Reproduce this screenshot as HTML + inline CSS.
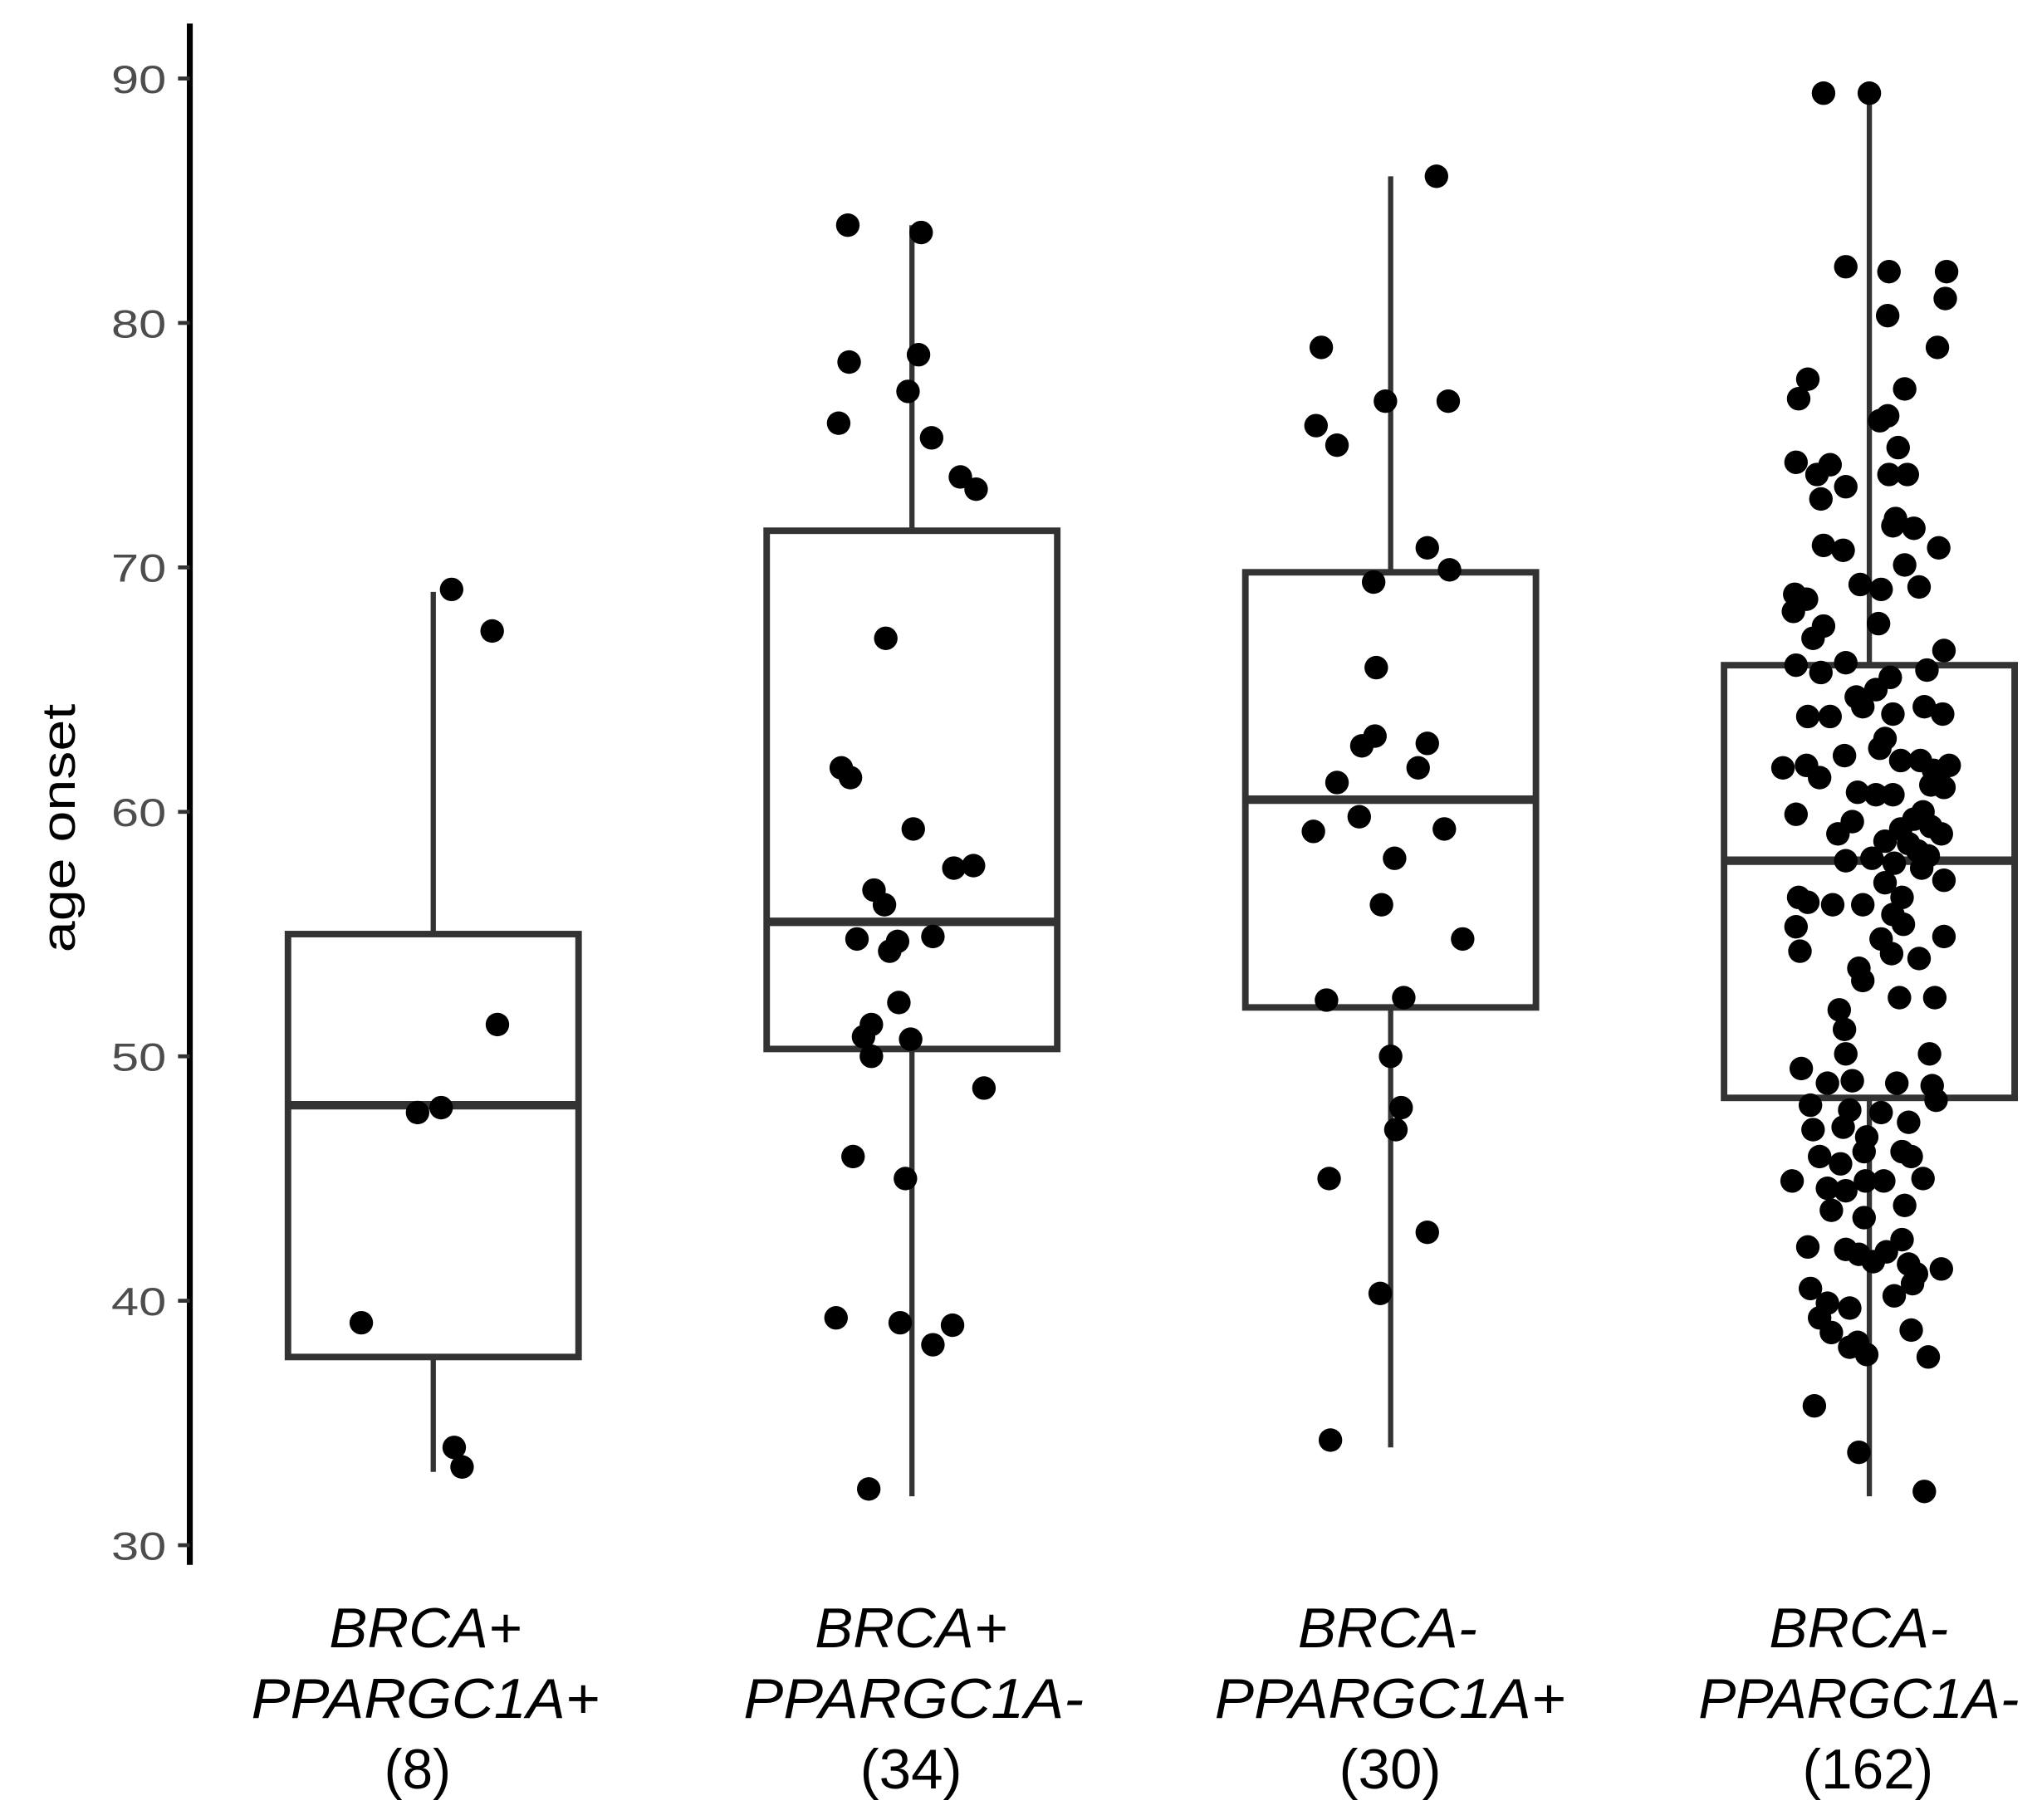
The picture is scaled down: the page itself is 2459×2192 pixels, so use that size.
<!DOCTYPE html>
<html><head><meta charset="utf-8"><style>
html,body{margin:0;padding:0;background:#fff;}
svg{display:block;}
text{font-family:"Liberation Sans",Arial,sans-serif;}
</style></head><body>
<svg id="chart" width="2459" height="2192" viewBox="0 0 1560 1391" preserveAspectRatio="none" xmlns="http://www.w3.org/2000/svg">
</svg>
<script>
const categories = ["BRCA+|PPARGC1A+|(8)","BRCA+|PPARGC1A-|(34)","BRCA-|PPARGC1A+|(30)","BRCA-|PPARGC1A-|(162)"];
const yTicks = [30,40,50,60,70,80,90];
const boxQ1 = [37.7,50.3,52.0,48.3];
const boxMedian = [48.0,55.5,60.5,58.0];
const boxQ3 = [55.0,71.5,69.8,66.0];
const whiskerLow = [33.0,32.0,34.0,32.0];
const whiskerHigh = [69.0,84.0,86.0,89.5];
const g1Values = [69.1,67.4,51.3,47.7,47.9,39.1,34.0,33.2];
const g1Jitter = [14,45,49,-12,6,-55,16,22];
const g2Values = [84.0,83.7,78.4,78.7,77.2,75.9,75.3,73.7,73.2,67.1,61.8,61.4,59.3,57.7,57.8,56.8,56.2,54.9,54.8,54.7,54.3,52.2,51.3,50.8,50.7,50.0,48.7,45.9,45.0,39.3,39.1,39.0,38.2,32.3];
const g2Jitter = [-49,7,-48,5,-3,-56,15,37,49,-20,-54,-47,1,32,47,-29,-21,16,-42,-11,-17,-10,-31,-37,-1,-31,55,-45,-5,-58,-9,31,16,-33];
const g3Values = [86.0,79.0,76.8,76.8,75.8,75.0,70.8,69.9,69.4,65.9,63.1,62.7,62.8,61.8,61.2,59.2,59.8,59.3,58.1,56.2,54.8,52.3,52.4,50.0,47.9,47.0,45.0,42.8,40.3,34.3];
const g3Jitter = [35,-53,-4,44,-57,-41,28,45,-13,-11,-12,-22,28,21,-41,-59,-24,41,3,-7,55,-49,10,0,8,4,-47,28,-8,-46];
const g4Values = [89.4,89.4,82.3,82.1,82.1,80.3,81.0,79.0,77.7,76.9,77.3,76.2,76.0,74.9,73.8,74.3,74.2,73.8,73.3,72.8,73.8,70.8,70.9,70.7,72.0,71.6,71.7,70.1,69.3,69.1,69.2,68.9,68.7,68.2,67.1,67.6,67.7,66.0,65.7,66.1,66.6,65.8,65.5,65.0,64.7,64.0,64.3,64.0,63.9,63.9,64.3,61.9,61.4,62.3,63.0,62.1,62.6,62.1,61.7,61.9,61.1,60.7,60.8,60.7,61.0,60.0,59.7,59.3,59.4,59.1,58.8,58.7,58.4,59.1,58.0,58.1,57.9,57.7,57.2,57.1,56.5,56.2,56.3,56.2,55.3,54.3,55.8,55.4,54.8,54.2,54.0,54.9,53.6,53.1,52.4,52.4,51.9,51.1,50.1,50.1,49.5,48.9,49.0,48.9,48.8,48.0,47.8,47.1,47.7,47.0,46.7,47.3,48.2,45.6,46.1,46.1,45.9,45.9,44.9,44.6,44.5,44.9,44.9,45.0,43.7,43.4,43.9,42.2,42.1,42.0,42.5,41.3,41.9,41.5,40.5,39.9,39.7,39.3,38.7,40.2,40.7,38.3,37.8,38.1,38.8,37.7,35.7,33.8,32.2,41.6,41.1,59.9,61.8,59.6,58.2,56.5];
const g4Jitter = [-35,0,-18,15,59,14,58,52,-47,-54,27,14,8,22,29,-56,-30,-40,-18,-37,15,53,-35,-20,20,34,18,27,-7,9,38,-57,-48,-58,-43,-35,7,-56,-37,-18,57,44,16,5,-10,18,42,56,-47,-30,-5,-48,-38,-19,12,24,8,39,49,61,47,18,-9,5,57,41,34,24,47,-24,12,30,37,55,-18,2,19,40,57,12,25,-5,-47,-28,-56,-53,18,26,9,17,38,57,-8,-5,23,50,-23,-19,-18,46,-52,-32,-13,21,48,-45,-15,-20,9,-43,-2,30,51,-22,-4,25,32,-38,-59,-32,-18,-3,11,41,-29,-4,27,-47,-18,13,25,55,-8,30,-45,-32,-15,-38,-29,19,33,-9,-2,-15,32,45,-42,-8,42,3,36,-56,-66,-13,45,-54];

const svg = document.getElementById('chart');
const NS = "http://www.w3.org/2000/svg";
const yScale = v => 60 + (90 - v) * 18.683;
const xScale = i => 331 + i * 365.7;
const halfW = 111;
function mk(tag, attrs){ const e=document.createElementNS(NS,tag); for(const k in attrs) e.setAttribute(k,attrs[k]); svg.appendChild(e); return e; }

const ax = mk('line',{x1:145,x2:145,y1:18,y2:1196,stroke:'#000','stroke-width':4.5});


yTicks.forEach(t=>{
  const y=yScale(t);
  const tk=mk('line',{x1:136,x2:145,y1:y,y2:y,stroke:'#333','stroke-width':3});
  
  
  const tx=mk('text',{x:85,y:y+11,'font-size':30,fill:'#4d4d4d',textLength:42,lengthAdjust:'spacingAndGlyphs'});
  tx.textContent=t;
  
  
});
const yt=mk('text',{x:-95,y:0,'font-size':36,fill:'#000',transform:'translate(57,633) rotate(-90)',textLength:190,lengthAdjust:'spacingAndGlyphs'});
yt.textContent='age onset';



const labelCenters = [[325,325,319],[696,698,696],[1060,1062,1062],[1420,1420,1427]];
const labelWidths = [[147,266,51],[147,260,78],[137,268,78],[137,245,100]];
const labelBaselines = [1259,1313,1367];
const groups=[[g1Values,g1Jitter],[g2Values,g2Jitter],[g3Values,g3Jitter],[g4Values,g4Jitter]];
categories.forEach((c,i)=>{
  const cx=xScale(i);
  const wl=mk('line',{x1:cx,x2:cx,y1:yScale(whiskerHigh[i]),y2:yScale(boxQ3[i]),stroke:'#333','stroke-width':4});
  
  
  const wl2=mk('line',{x1:cx,x2:cx,y1:yScale(boxQ1[i]),y2:yScale(whiskerLow[i]),stroke:'#333','stroke-width':4});
  
  
  const b=mk('rect',{x:cx-halfW,y:yScale(boxQ3[i]),width:halfW*2,height:yScale(boxQ1[i])-yScale(boxQ3[i]),fill:'none',stroke:'#333','stroke-width':5});
  
  
  const m=mk('line',{x1:cx-halfW,x2:cx+halfW,y1:yScale(boxMedian[i]),y2:yScale(boxMedian[i]),stroke:'#333','stroke-width':6.5});
  
  
  const [vals,jit]=groups[i];
  vals.forEach((v,j)=>{
    const p=mk('circle',{cx:cx+jit[j],cy:yScale(v),r:9,fill:'#000'});
    
    
  });
  const lines=c.split('|');
  lines.forEach((l,k)=>{
    const w=labelWidths[i][k];
    const t=mk('text',{x:labelCenters[i][k]-w/2,y:labelBaselines[k],'font-size':43,fill:'#000','font-style':k<2?'italic':'normal',textLength:w,lengthAdjust:'spacingAndGlyphs'});
    t.textContent=l;
    
    
  });
});
</script>
</body></html>
